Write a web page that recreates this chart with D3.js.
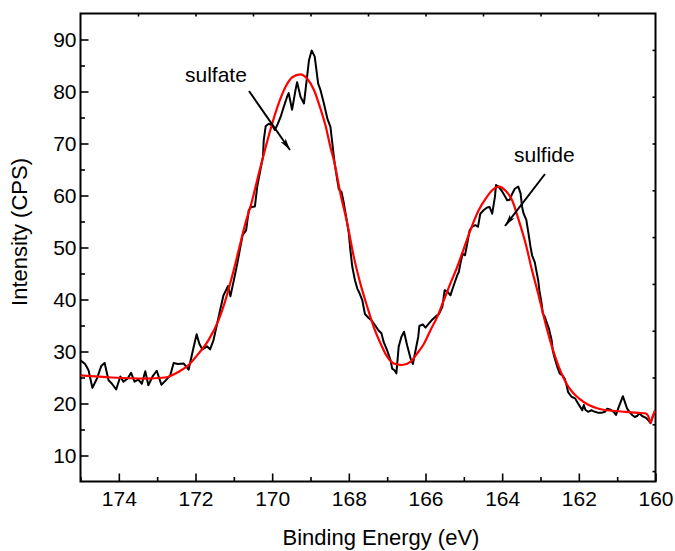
<!DOCTYPE html>
<html>
<head>
<meta charset="utf-8">
<script src="https://cdn.jsdelivr.net/npm/d3@7"></script>
<style>
  html, body { margin: 0; padding: 0; background: #fff; }
  svg { display: block; font-family: "Liberation Sans", Arial, sans-serif; }
</style>
</head>
<body>
<svg id="chart" width="675" height="551"></svg>
<script>
// S 2p XPS spectrum: measured counts (black) and peak fit envelope (red)
const energyRaw = [175.00,174.88,174.79,174.69,174.57,174.46,174.37,174.27,174.18,174.07,173.96,173.88,173.77,173.68,173.59,173.49,173.40,173.31,173.23,173.12,173.01,172.89,172.77,172.66,172.57,172.46,172.31,172.18,172.05,171.97,171.90,171.82,171.70,171.62,171.53,171.44,171.36,171.27,171.15,171.09,171.00,170.91,170.83,170.77,170.68,170.61,170.54,170.45,170.39,170.30,170.24,170.22,170.17,170.09,170.00,169.93,169.87,169.78,169.70,169.61,169.57,169.48,169.39,169.35,169.26,169.17,169.09,169.04,168.97,168.89,168.80,168.74,168.65,168.56,168.48,168.37,168.30,168.26,168.19,168.13,168.07,168.00,167.96,167.91,167.84,167.78,167.72,167.65,167.58,167.49,167.41,167.32,167.23,167.15,167.09,167.00,166.91,166.87,166.81,166.76,166.70,166.63,166.56,166.48,166.39,166.33,166.26,166.19,166.16,166.07,166.00,165.91,165.84,165.74,165.65,165.56,165.50,165.43,165.35,165.26,165.17,165.13,165.09,165.03,164.97,164.91,164.85,164.78,164.70,164.63,164.57,164.48,164.39,164.33,164.26,164.19,164.16,164.10,164.02,163.93,163.87,163.80,163.74,163.67,163.58,163.52,163.48,163.44,163.37,163.32,163.26,163.22,163.15,163.11,163.06,163.03,162.97,162.94,162.89,162.83,162.78,162.71,162.68,162.63,162.56,162.50,162.43,162.37,162.33,162.28,162.19,162.10,162.02,161.96,161.91,161.87,161.83,161.76,161.67,161.58,161.49,161.41,161.32,161.26,161.17,161.09,161.03,160.96,160.85,160.80,160.74,160.68,160.61,160.54,160.48,160.42,160.35,160.26,160.19,160.13,160.09,160.04,160.00];
const countsRaw = [28.3,27.6,26.4,23.0,24.8,27.2,27.8,24.5,23.8,22.7,25.2,24.2,24.8,25.9,24.2,24.6,23.8,26.2,23.5,25.2,26.3,23.6,24.5,25.4,27.8,27.6,27.7,26.5,30.8,33.3,31.5,30.4,31.0,30.4,32.2,35.2,37.9,40.8,42.6,40.6,43.7,46.9,50.1,52.4,53.3,57.2,57.8,57.9,61.7,65.2,67.4,70.6,73.3,73.8,73.5,72.6,73.5,75.1,77.0,79.0,79.7,76.5,80.3,81.8,79.0,77.7,82.8,86.0,87.9,86.7,81.5,80.3,77.7,74.8,73.2,66.2,62.9,61.2,60.7,58.5,55.9,52.7,49.5,46.3,43.7,42.1,41.2,39.9,37.2,36.5,36.0,35.1,34.1,33.5,31.8,30.2,28.3,26.7,26.4,25.8,30.9,32.8,33.8,31.2,28.7,27.6,30.2,32.8,34.9,35.2,34.6,35.4,36.0,36.7,37.2,38.6,41.8,41.5,40.8,42.8,44.7,45.3,46.9,48.8,48.5,50.8,53.3,54.0,54.3,54.0,56.5,57.2,57.7,57.8,56.5,59.7,62.0,61.7,61.0,59.9,59.1,59.2,60.3,61.3,61.7,60.4,57.8,56.5,55.3,53.0,50.1,48.5,47.2,45.6,43.7,41.8,39.2,37.3,36.7,35.4,34.4,32.2,30.2,28.7,27.0,25.8,25.4,24.8,23.8,22.2,21.3,21.0,20.0,19.3,18.7,19.7,18.8,18.4,18.7,18.4,18.2,18.2,18.4,19.0,18.8,18.4,17.8,19.3,21.4,20.3,19.0,18.4,17.8,17.4,17.6,18.1,17.6,17.3,16.8,16.2,17.1,18.1,18.6];

const energyFit = [175.00,174.18,173.31,172.79,172.44,172.18,171.92,171.66,171.40,171.23,171.04,170.87,170.70,170.52,170.35,170.17,170.00,169.83,169.65,169.48,169.26,169.09,168.91,168.74,168.61,168.48,168.39,168.22,168.04,167.87,167.70,167.52,167.35,167.17,167.00,166.83,166.61,166.39,166.22,166.04,165.87,165.69,165.52,165.35,165.17,165.00,164.83,164.61,164.43,164.26,164.09,163.91,163.74,163.57,163.39,163.22,163.04,162.87,162.70,162.52,162.35,162.17,162.00,161.74,161.48,161.13,160.78,160.44,160.26,160.19,160.13,160.09,160.02];
const countsFit = [25.4,25.0,24.8,25.0,26.1,27.4,29.6,32.2,36.0,39.6,44.6,49.6,54.6,59.1,64.2,69.3,73.8,77.7,80.9,82.7,83.3,82.5,80.3,76.7,73.5,69.3,66.8,60.4,54.6,48.2,43.1,38.6,34.7,31.5,29.0,27.7,27.4,28.0,29.6,31.5,34.1,36.7,39.9,43.1,46.3,49.8,53.3,57.2,59.4,61.0,61.7,60.9,59.1,55.3,50.8,45.6,40.5,35.4,30.9,27.0,24.2,22.2,21.0,19.7,19.0,18.6,18.4,18.2,18.1,17.6,16.3,17.1,18.6];

const xMajorTicks = [174,172,170,168,166,164,162,160];
const xMinorTicks = [175,173,171,169,167,165,163,161];
const yMajorTicks = [10,20,30,40,50,60,70,80,90];
const yMinorTicks = [15,25,35,45,55,65,75,85];
const topTicks = [173.5,172,170.5,169,167.5,166,164.5,163,161.5];
const rightTicks = [7,16,25,34,43,52,61,70,79,88];

const annotations = [
  { text: "sulfate", tx: 185, ty: 82, from: [249, 91], to: [290, 150] },
  { text: "sulfide", tx: 514, ty: 162, from: [545, 174], to: [505, 226] }
];

const svg = d3.select("#chart");
const plot = { left: 80.5, right: 655.5, top: 13.5, bottom: 481.5 };

const x = d3.scaleLinear().domain([175, 160]).range([plot.left, plot.right]);
const y = d3.scaleLinear().domain([5, 95]).range([plot.bottom, plot.top]);

const tickFont = 21;
const titleFont = 22;
const noteFont = 21;

// Bottom axis: labelled major ticks plus minor ticks, pointing into the plot
const bottom = svg.append("g").attr("transform", `translate(0,${plot.bottom})`);
bottom.call(d3.axisBottom(x).tickValues(xMajorTicks).tickSize(-8).tickPadding(10).tickFormat(d3.format("d")));
bottom.append("g").call(d3.axisBottom(x).tickValues(xMinorTicks).tickSize(-4.5).tickFormat(""));

// Left axis
const left = svg.append("g").attr("transform", `translate(${plot.left},0)`);
left.call(d3.axisLeft(y).tickValues(yMajorTicks).tickSize(-8).tickPadding(4).tickFormat(d3.format("d")));
left.append("g").call(d3.axisLeft(y).tickValues(yMinorTicks).tickSize(-4.5).tickFormat(""));

// Top and right axes: short unlabelled ticks
svg.append("g").attr("transform", `translate(0,${plot.top})`)
  .call(d3.axisTop(x).tickValues(topTicks).tickSize(-3).tickFormat(""));
svg.append("g").attr("transform", `translate(${plot.right},0)`)
  .call(d3.axisRight(y).tickValues(rightTicks).tickSize(-3).tickFormat(""));

svg.selectAll(".domain").remove();
svg.selectAll(".tick line").attr("stroke", "#000").attr("stroke-width", 1.6);
svg.selectAll(".tick text").attr("font-size", tickFont).attr("fill", "#000")
  .attr("font-family", "'Liberation Sans', Arial, sans-serif");

// Frame
svg.append("rect")
  .attr("x", plot.left).attr("y", plot.top)
  .attr("width", plot.right - plot.left).attr("height", plot.bottom - plot.top)
  .attr("fill", "none").attr("stroke", "#000").attr("stroke-width", 2);

// Axis titles
svg.append("text")
  .attr("x", 381).attr("y", 545)
  .attr("text-anchor", "middle").attr("font-size", titleFont)
  .text("Binding Energy (eV)");
svg.append("text")
  .attr("transform", `translate(27,232) rotate(-90)`)
  .attr("text-anchor", "middle").attr("font-size", titleFont)
  .text("Intensity (CPS)");

// Data series
svg.append("clipPath").attr("id", "plot-clip").append("rect")
  .attr("x", plot.left).attr("y", plot.top)
  .attr("width", plot.right - plot.left).attr("height", plot.bottom - plot.top);

const rawPts = energyRaw.map((e, i) => [e, countsRaw[i]]);
const fitPts = energyFit.map((e, i) => [e, countsFit[i]]);

svg.append("path")
  .datum(rawPts)
  .attr("clip-path", "url(#plot-clip)")
  .attr("fill", "none").attr("stroke", "#000").attr("stroke-width", 2)
  .attr("stroke-linejoin", "round")
  .attr("d", d3.line().x(d => x(d[0])).y(d => y(d[1])));

svg.append("path")
  .datum(fitPts)
  .attr("clip-path", "url(#plot-clip)")
  .attr("fill", "none").attr("stroke", "#ff0000").attr("stroke-width", 2.2)
  .attr("stroke-linejoin", "round")
  .attr("d", d3.line().x(d => x(d[0])).y(d => y(d[1])).curve(d3.curveMonotoneX));

// Peak labels with arrows
svg.append("defs").append("marker")
  .attr("id", "arrowhead").attr("viewBox", "0 0 12 6")
  .attr("refX", 12).attr("refY", 3)
  .attr("markerWidth", 12).attr("markerHeight", 6)
  .attr("markerUnits", "userSpaceOnUse")
  .attr("orient", "auto")
  .append("path").attr("d", "M0,0 L12,3 L0,6 L3,3 Z").attr("fill", "#000");

annotations.forEach(a => {
  svg.append("text").attr("x", a.tx).attr("y", a.ty)
    .attr("font-size", noteFont).text(a.text);
  svg.append("line")
    .attr("x1", a.from[0]).attr("y1", a.from[1])
    .attr("x2", a.to[0]).attr("y2", a.to[1])
    .attr("stroke", "#000").attr("stroke-width", 2)
    .attr("marker-end", "url(#arrowhead)");
});
</script>
</body>
</html>
